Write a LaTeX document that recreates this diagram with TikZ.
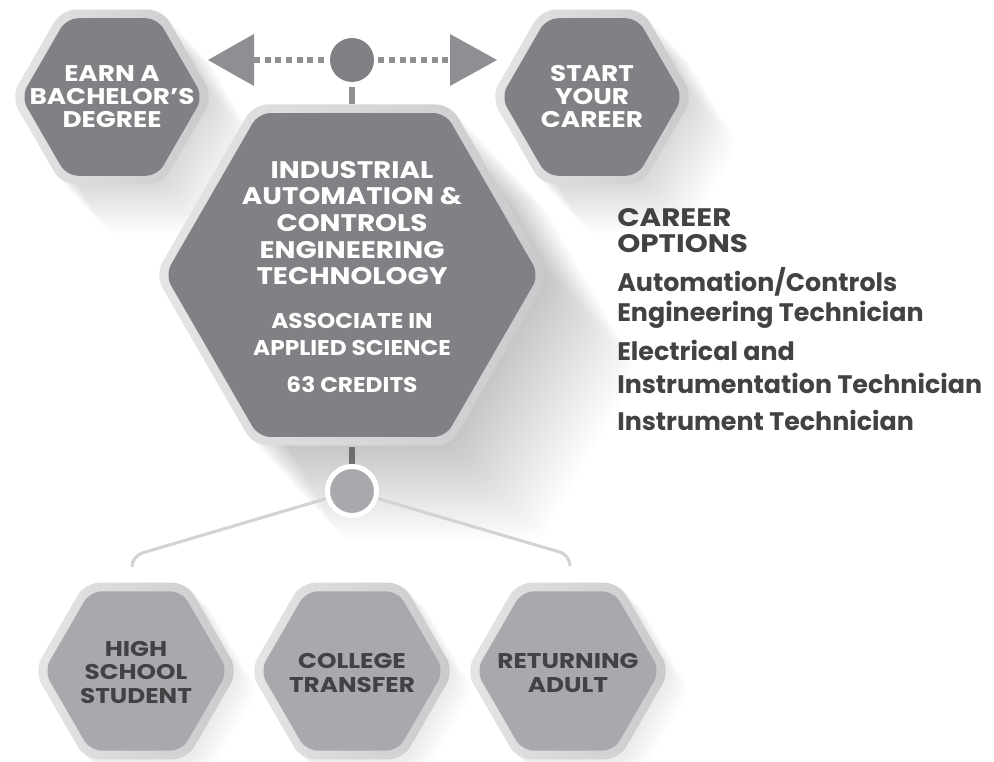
\documentclass[tikz,border=0pt]{standalone}
\usepackage{fontspec}
\setmainfont{Poppins}
\newfontfamily\capsfont{Poppins}[FakeStretch=1.16]
\newfontfamily\subfont{Poppins}[FakeStretch=1.09]
\usetikzlibrary{calc}
\definecolor{hexdark}{HTML}{808184}
\definecolor{hexlight}{HTML}{A7A9AC}
\definecolor{rimleft}{HTML}{E5E5E6}
\definecolor{rimright}{HTML}{C9CACC}
\definecolor{txtdark}{HTML}{414244}
\definecolor{dotgray}{HTML}{8E8F92}
\definecolor{linegray}{HTML}{D2D3D4}
\definecolor{stemdark}{HTML}{6D6E71}
\newcommand\hexp[3]{(#1,#2+0.866*#3) -- (#1-0.5*#3,#2+0.866*#3) -- (#1-#3,#2) -- (#1-0.5*#3,#2-0.866*#3) -- (#1+0.5*#3,#2-0.866*#3) -- (#1+#3,#2) -- (#1+0.5*#3,#2+0.866*#3) -- cycle}
\newcommand\hexshadow[6]{\foreach \i in {1,...,#4}{\fill[black,opacity=0.009,rounded corners=10pt] \hexp{#1+\i*#5}{#2+\i*#6}{#3};}}
\newcommand\hexagon[5]{\shade[rounded corners=11pt,left color=rimleft,right color=rimright] \hexp{#1}{#2}{#3};
  \fill[rounded corners=9pt,#5] \hexp{#1}{#2}{#4};}
\begin{document}
\begin{tikzpicture}[x=0.75pt,y=-0.75pt,
  whitetxt/.style={text=white,align=center,inner sep=0pt,anchor=base},
  darktxt/.style={text=txtdark,align=center,inner sep=0pt,anchor=base},
  careertxt/.style={text=txtdark,align=left,inner sep=0pt,anchor=base west},
  connline/.style={draw=linegray,line width=2.3pt,rounded corners=8pt},
  dotline/.style={draw=dotgray,line width=4.5pt,dash pattern=on 4.5pt off 3.5pt},
  stem/.style={line width=4pt}]
\useasboundingbox (0,0) rectangle (994,762);
% soft cast shadows
\hexshadow{352}{275}{197}{28}{3.2}{3.4}
\hexshadow{112}{97}{101}{18}{2.5}{2.7}
\hexshadow{592}{97}{101}{18}{2.5}{2.7}
\hexshadow{136}{671}{102}{10}{2}{2}
\hexshadow{352}{671}{102}{10}{2}{2}
\hexshadow{568}{671}{102}{10}{2}{2}
% hexagons
\hexagon{112}{97}{101}{91}{hexdark}
\hexagon{592}{97}{101}{91}{hexdark}
\hexagon{352}{275}{197}{187}{hexdark}
\hexagon{136}{671}{102}{92}{hexlight}
\hexagon{352}{671}{102}{92}{hexlight}
\hexagon{568}{671}{102}{92}{hexlight}
% top connector
\node[circle,fill=hexdark,minimum size=33pt,inner sep=0pt] (topdot) at (352,60) {};
\coordinate (larrow) at (254,60);
\coordinate (rarrow) at (450,60);
\coordinate (maintop) at (352,104);
\fill[dotgray] (larrow) ++(0,-26) -- ++(0,52) -- (208,60) -- cycle;
\fill[dotgray] (rarrow) ++(0,-26) -- ++(0,52) -- (497,60) -- cycle;
\draw[dotline] (larrow) -- ($(topdot.west)+(-6,0)$);
\draw[dotline] ($(topdot.east)+(4,0)$) -- (rarrow);
\draw[dotgray,stem] (topdot.south) ++(0,5) -- (maintop);
% bottom connector
\coordinate (mainbot) at (352,447);
\coordinate (lend) at (132,566);
\coordinate (rend) at (570,566);
\draw[connline] (352,491) -- (132,556) -- (lend);
\draw[connline] (352,491) -- (570,555) -- (rend);
\node[circle,fill=hexlight,draw=white,line width=3.75pt,minimum size=36.75pt,inner sep=0pt] (botdot) at (352,491) {};
\draw[stemdark,stem] (mainbot) -- (botdot.north);
% texts (anchor base = baseline of the last line)
\node[whitetxt,font={\capsfont\bfseries\fontsize{17}{17.6}\selectfont}] (earn) at (112,128) {EARN A\\BACHELOR’S\\DEGREE};
\node[whitetxt,font={\capsfont\bfseries\fontsize{17}{17.6}\selectfont}] (start) at (592,128) {START\\YOUR\\CAREER};
\node[whitetxt,font={\capsfont\bfseries\fontsize{18}{20}\selectfont}] (main) at (352,285) {INDUSTRIAL\\AUTOMATION \&\\CONTROLS\\ENGINEERING\\TECHNOLOGY};
\node[whitetxt,font={\subfont\bfseries\fontsize{16}{20}\selectfont}] (degree) at (352,355) {ASSOCIATE IN\\APPLIED SCIENCE};
\node[whitetxt,font={\subfont\bfseries\fontsize{16}{20}\selectfont}] (credits) at (352,392) {63 CREDITS};
\node[darktxt,font={\capsfont\bfseries\fontsize{16}{17.4}\selectfont}] (hs) at (136,703) {HIGH\\SCHOOL\\STUDENT};
\node[darktxt,font={\capsfont\bfseries\fontsize{16}{17.4}\selectfont}] (ct) at (352,692) {COLLEGE\\TRANSFER};
\node[darktxt,font={\capsfont\bfseries\fontsize{16}{17.4}\selectfont}] (ra) at (568,692) {RETURNING\\ADULT};
\node[careertxt,font={\capsfont\bfseries\fontsize{19}{19.5}\selectfont}] (copt) at (617,253) {CAREER\\OPTIONS};
\node[careertxt,font={\bfseries\fontsize{19}{22.5}\selectfont}] (job1) at (617,322) {Automation/Controls\\Engineering Technician};
\node[careertxt,font={\bfseries\fontsize{19}{24.5}\selectfont}] (job2) at (617,393) {Electrical and\\Instrumentation Technician};
\node[careertxt,font={\bfseries\fontsize{19}{19.5}\selectfont}] (job3) at (617,430) {Instrument Technician};
\end{tikzpicture}
\end{document}
